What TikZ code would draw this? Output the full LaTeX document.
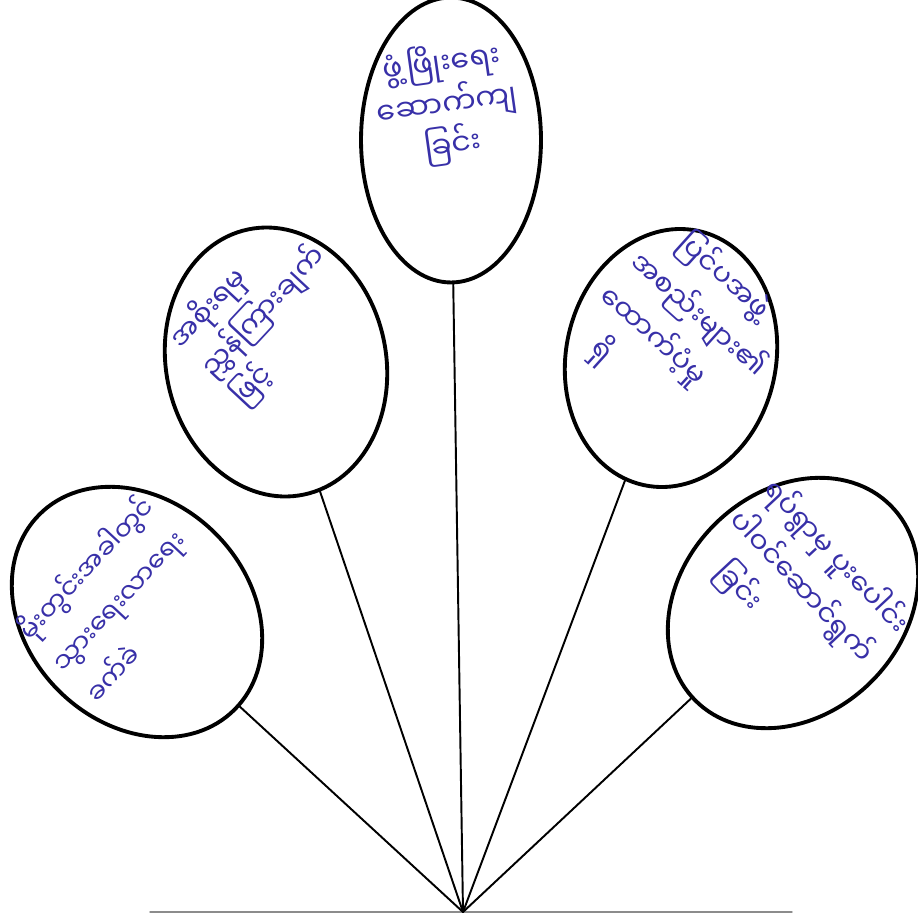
\documentclass[tikz,border=0pt]{standalone}
\usepackage{fontspec}
\usetikzlibrary{shapes.geometric}
\newfontfamily\mmfont[Script=Myanmar]{Noto Sans Myanmar UI}
\definecolor{inkblue}{RGB}{56,48,168}
\tikzset{
  bubble/.style={draw,ellipse,line width=2.2pt,inner sep=0pt},
  spoke/.style={line width=1.1pt},
  handtext/.style={font=\mmfont\fontsize{16}{26}\selectfont,text=inkblue,align=left,inner sep=1pt}
}
\begin{document}
\begin{tikzpicture}[x=0.02cm,y=-0.02cm,line cap=round,line join=round]
  \useasboundingbox (0,0) rectangle (918,919);

  % Five bubbles around the fan.
  \node[bubble,minimum width=3.6cm,minimum height=5.7cm] (develop) at (451,140) {};
  \node[bubble,minimum width=4.4cm,minimum height=5.42cm,rotate=12] (govt) at (276,362) {};
  \node[bubble,minimum width=4.2cm,minimum height=5.2cm,rotate=-12] (ngo) at (671,358) {};
  \node[bubble,minimum width=4.44cm,minimum height=5.52cm,rotate=45] (rain) at (137,612) {};
  \node[bubble,minimum width=4.44cm,minimum height=5.52cm,rotate=-45] (village) at (793,603) {};

  % Handwritten labels, set at the slant of the source.
  \node[handtext,font=\mmfont\fontsize{17}{22}\selectfont,align=center,rotate=8] (developtxt) at (447,104)
    {ဖွံ့ဖြိုးရေး\\ဆောက်ကျ\\ခြင်း};
  \node[handtext,font=\mmfont\fontsize{16}{24}\selectfont,rotate=47] (govttxt) at (263,312)
    {အစိုးရမှ\\ညွှန်ကြားချက်\\ဖြင့်};
  \node[handtext,rotate=-42] (ngotxt) at (683,332)
    {\hspace*{0.8em}ပြင်ပအဖွဲ့\\အစည်းများ၏\\ထောက်ပံ့မှု\\\hspace*{1em}ရှိ};
  \node[handtext,font=\mmfont\fontsize{15}{26}\selectfont,rotate=47] (raintxt) at (118,598)
    {မိုးတွင်းအခါတွင်\\သွားရေးလာရေး\\ခက်ခဲ};
  \node[handtext,rotate=-47] (villagetxt) at (802,588)
    {ရပ်ရွာမှ ပူးပေါင်း\\ပါဝင်ဆောင်ရွက်\\\hspace*{1em}ခြင်း};

  % Fan of spokes meeting on the base line.
  \coordinate (apex) at (463,912);
  \coordinate (baseL) at (150,912);
  \coordinate (baseR) at (792,912);
  \draw[line width=0.8pt,black!45] (baseL)--(baseR);
  \draw[spoke] (apex)--(rain);
  \draw[spoke] (apex)--(govt);
  \draw[spoke] (apex)--(develop);
  \draw[spoke] (apex)--(ngo);
  \draw[spoke] (apex)--(village);
\end{tikzpicture}
\end{document}
